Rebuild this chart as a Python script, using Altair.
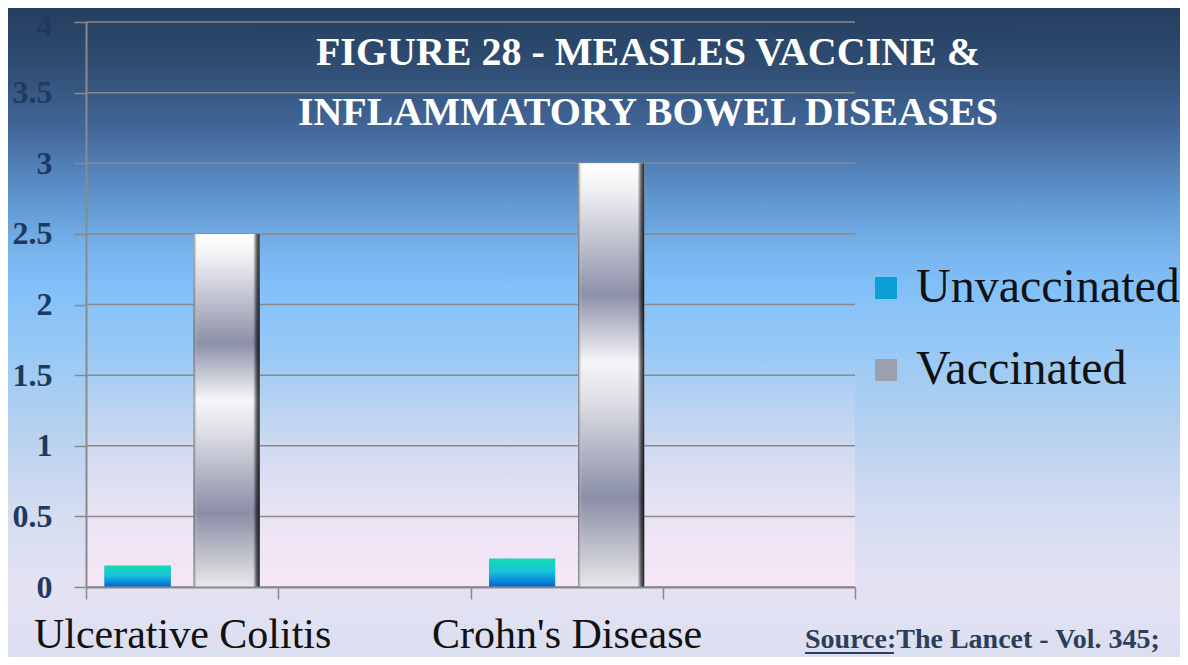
import altair as alt
import pandas as pd

# ---- data ----
categories = ["Ulcerative Colitis", "Crohn's Disease"]
series = ["Unvaccinated", "Vaccinated"]
unvaccinated = [0.15, 0.2]
vaccinated = [2.5, 3.0]
x_domain = ["Ulcerative Colitis", " ", "Crohn's Disease", "  "]
y_ticks = [0, 0.5, 1, 1.5, 2, 2.5, 3, 3.5, 4]
title_lines = ["FIGURE 28 - MEASLES VACCINE &", "INFLAMMATORY BOWEL DISEASES"]
source_text = "Source:The  Lancet - Vol. 345;"

rows = []
for i, c in enumerate(categories):
    rows.append({"category": c, "group": series[0], "value": unvaccinated[i]})
    rows.append({"category": c, "group": series[1], "value": vaccinated[i]})
df = pd.DataFrame(rows)
one = pd.DataFrame({"k": [0]})
ticks_df = pd.DataFrame({"t": y_ticks})

# ---- layout ----
W, H = 769, 565
PL, PT, PR, PB = 78, 14, 325, 70
SERIF = "Liberation Serif"
GRID = "#8a8a8a"


def lin(stops, x1=0, y1=0, x2=0, y2=1):
    return {"gradient": "linear", "x1": x1, "y1": y1, "x2": x2, "y2": y2,
            "stops": [{"offset": o, "color": c} for o, c in stops]}


bg_grad = lin([(0.0, "#243e5f"), (0.08, "#2e4b70"), (0.19, "#43689b"),
               (0.30, "#6199d2"), (0.38, "#79b5ee"), (0.43, "#82c0fa"),
               (0.53, "#98c9f5"), (0.65, "#b6d1ef"), (0.77, "#d3dcf1"),
               (0.89, "#e3e2f3"), (1.0, "#dcdff0")])
pink_grad = lin([(0.0, "rgba(250,232,246,0)"), (0.6, "rgba(250,232,246,0)"),
                 (1.0, "rgba(250,232,246,0.8)")])
unvac_grad = lin([(0.0, "#10dcb0"), (0.45, "#18c4dc"), (1.0, "#0064d2")])
vac_grad = lin([(0.0, "#ffffff"), (0.06, "#f2f2f5"), (0.31, "#8c90a8"),
                (0.47, "#f6f6f8"), (0.56, "#dedfe6"), (0.79, "#8a8ea6"),
                (0.93, "#c9cad1"), (1.0, "#e9e9eb")])
vac_edges = lin([(0.0, "rgba(80,80,90,0.75)"), (0.06, "rgba(255,255,255,0)"),
                 (0.90, "rgba(0,0,0,0)"), (0.95, "rgba(0,0,0,0.55)"),
                 (1.0, "rgba(0,0,0,0.85)")], x1=0, y1=0, x2=1, y2=0)

yscale = alt.Scale(domain=[0, 4], nice=False, zero=True)
yaxis = alt.Axis(values=y_ticks, format=".1~f", title=None, grid=False,
                 labelFont=SERIF, labelFontWeight="bold", labelFontSize=32,
                 labelOffset={"condition": {"test": "datum.value >= 4",
                                            "value": 3},
                              "value": 0},
                 labelColor="#1f3a5e", labelPadding=22, tickSize=12,
                 tickColor=GRID, tickWidth=1.5, domainColor=GRID,
                 domainWidth=2, zindex=1)
yenc = alt.Y("value:Q", scale=yscale, axis=yaxis)
xenc = alt.X("category:N",
             scale=alt.Scale(domain=x_domain, paddingInner=0, paddingOuter=0),
             axis=alt.Axis(title=None, tickBand="extent", labelAngle=0,
                           labelFont=SERIF, labelFontSize=42,
                           labelColor="#111111", labelBaseline="alphabetic",
                           labelPadding=48, labelLimit=400,
                           labelOverlap=False, tickSize=12, tickColor=GRID,
                           tickWidth=1.5, domainColor=GRID, domainWidth=2,
                           grid=False, zindex=1))
xoff = alt.XOffset("group:N",
                   scale=alt.Scale(domain=series, paddingInner=0.258,
                                   paddingOuter=0.208))

bg = alt.Chart(one).mark_rect(fill=bg_grad).encode(
    x=alt.value(-PL), x2=alt.value(W + PR),
    y=alt.value(-PT), y2=alt.value(H + PB))

haze = alt.Chart(one).mark_rect(fill=pink_grad).encode(
    x=alt.value(0), x2=alt.value(W), y=alt.value(0), y2=alt.value(H))

grid = alt.Chart(ticks_df).mark_rule(color=GRID, strokeWidth=1.5).encode(
    y=alt.Y("t:Q", scale=yscale, axis=yaxis),
    x=alt.value(0), x2=alt.value(W))

legend_bars = alt.Chart(df).mark_bar().encode(
    x=xenc, xOffset=xoff, y=yenc,
    color=alt.Color("group:N",
                    scale=alt.Scale(domain=series,
                                    range=["#0b9fd6", "#9c9fae"]),
                    legend=alt.Legend(title=None, orient="none",
                                      legendX=776, legendY=242,
                                      symbolType="square", symbolSize=484,
                                      symbolStrokeWidth=0,
                                      labelFont=SERIF, labelFontSize=48,
                                      labelColor="#111111", labelOffset=6,
                                      rowPadding=34, labelLimit=400)))

unvac_bars = alt.Chart(df).transform_filter(
    alt.datum.group == series[0]).mark_bar(fill=unvac_grad).encode(
    x=xenc, xOffset=xoff, y=yenc)

vac_bars = alt.Chart(df).transform_filter(
    alt.datum.group == series[1]).mark_bar(fill=vac_grad).encode(
    x=xenc, xOffset=xoff, y=yenc)

vac_edge_bars = alt.Chart(df).transform_filter(
    alt.datum.group == series[1]).mark_bar(fill=vac_edges).encode(
    x=xenc, xOffset=xoff, y=yenc)

title = alt.Chart(one).mark_text(
    text=title_lines, font=SERIF, fontWeight="bold", fontSize=40,
    color="#ffffff", align="center", baseline="alphabetic",
    lineHeight=60).encode(x=alt.value(562), y=alt.value(43))

source = alt.Chart(one).mark_text(
    text=source_text, font=SERIF, fontWeight="bold", fontSize=28,
    color="#2a3f5c", align="left", baseline="alphabetic").encode(
    x=alt.value(719), y=alt.value(626))

underline = alt.Chart(one).mark_rule(color="#2a3f5c", strokeWidth=2).encode(
    x=alt.value(719), x2=alt.value(808), y=alt.value(631))

chart = alt.layer(
    bg, haze, grid, legend_bars, unvac_bars, vac_bars, vac_edge_bars,
    title, source, underline
).properties(
    width=W, height=H,
    autosize=alt.AutoSizeParams(type="none"),
    padding={"left": PL, "top": PT, "right": PR, "bottom": PB},
    background="#dcdff0",
).configure_view(stroke=None)

chart.save("out.html", embed_options={"renderer": "svg", "actions": False})
